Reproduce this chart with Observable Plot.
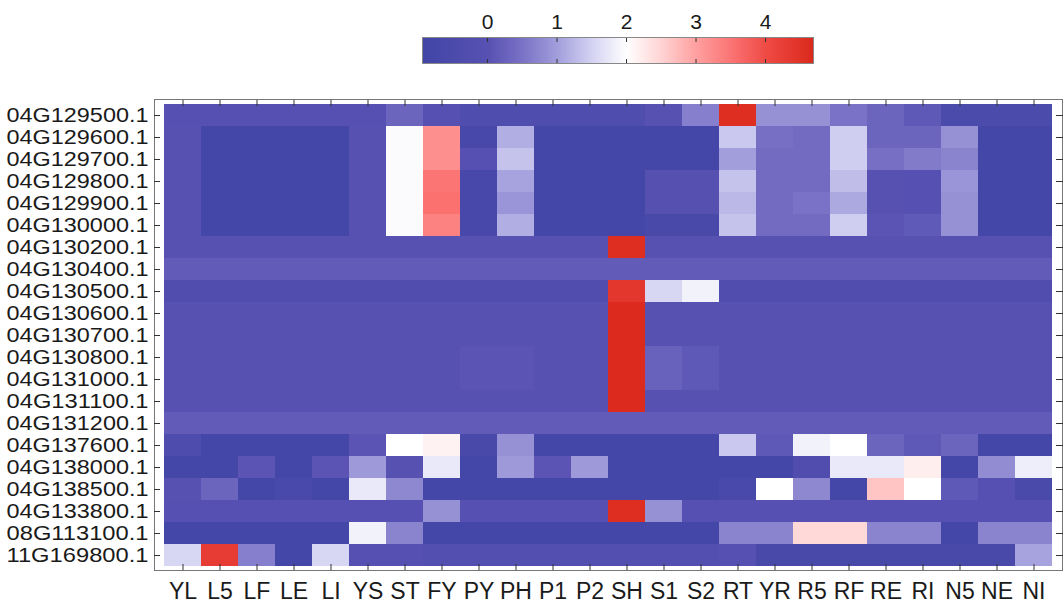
<!DOCTYPE html>
<html><head><meta charset="utf-8">
<script src="https://cdn.jsdelivr.net/npm/d3@7"></script>
<script src="https://cdn.jsdelivr.net/npm/@observablehq/plot@0.6"></script>
<style>
body{margin:0;background:#fff;font-family:"Liberation Sans",Arial,sans-serif}
#chart svg{display:block}
</style>
</head><body><div id="chart"></div>
<script>
const columns = ["YL","L5","LF","LE","LI","YS","ST","FY","PY","PH","P1","P2","SH","S1","S2","RT","YR","R5","RF","RE","RI","N5","NE","NI"];
const rows = ["04G129500.1","04G129600.1","04G129700.1","04G129800.1","04G129900.1","04G130000.1","04G130200.1","04G130400.1","04G130500.1","04G130600.1","04G130700.1","04G130800.1","04G131000.1","04G131100.1","04G131200.1","04G137600.1","04G138000.1","04G138500.1","04G133800.1","08G113100.1","11G169800.1"];
//            YL    L5    LF    LE    LI    YS    ST    FY    PY    PH    P1    P2    SH    S1    S2    RT    YR    R5    RF    RE    RI    N5    NE    NI
const values = [
  [-0.1, -0.1, -0.1, -0.1, -0.1, -0.1,  0.3, -0.1,-0.35,-0.35,-0.35,-0.35,-0.35,  0.0, 0.65,  4.6, 0.85, 0.85,  0.5,  0.3,  0.1, -0.5, -0.5, -0.5],
  [ 0.0, -0.8, -0.8, -0.8, -0.8,  0.0, 1.95,  3.2, -0.7, 1.15, -0.8, -0.8, -0.8, -0.8, -0.8,  1.4, 0.45,  0.4, 1.45,  0.3,  0.3, 0.85, -0.8, -0.8],
  [ 0.0, -0.8, -0.8, -0.8, -0.8,  0.0, 1.95,  3.2, -0.1, 1.35, -0.8, -0.8, -0.8, -0.8, -0.8,  1.0,  0.4,  0.4, 1.45, 0.45,  0.6,  0.7, -0.8, -0.8],
  [ 0.0, -0.8, -0.8, -0.8, -0.8,  0.0, 1.95,  3.5, -0.7, 1.05, -0.8, -0.8, -0.8,-0.05,-0.05, 1.35,  0.4,  0.4,  1.3,  0.0, -0.1,  0.9, -0.8, -0.8],
  [ 0.0, -0.8, -0.8, -0.8, -0.8,  0.0, 1.95, 3.55, -0.7,  0.9, -0.8, -0.8, -0.8,-0.05,-0.05, 1.25,  0.4,  0.5,  1.1,  0.0, -0.1, 0.85, -0.8, -0.8],
  [ 0.0, -0.8, -0.8, -0.8, -0.8,  0.0, 1.95, 3.35, -0.7, 1.15, -0.8, -0.8, -0.8, -0.6, -0.6, 1.35,  0.4,  0.4, 1.45, 0.05, 0.12, 0.85, -0.8, -0.8],
  [ 0.0,  0.0,  0.0,  0.0,  0.0,  0.0,  0.0,  0.0,  0.0,  0.0,  0.0,  0.0,  4.6,  0.0,  0.0,  0.0,  0.0,  0.0,  0.0,  0.0,  0.0,  0.0,  0.0,  0.0],
  [0.15, 0.15, 0.15, 0.15, 0.15, 0.15, 0.15, 0.15, 0.15, 0.15, 0.15, 0.15, 0.15, 0.15, 0.15, 0.15, 0.15, 0.15, 0.15, 0.15, 0.15, 0.15, 0.15, 0.15],
  [-0.3, -0.3, -0.3, -0.3, -0.3, -0.3, -0.3, -0.3, -0.3, -0.3, -0.3, -0.3,  4.4, 1.55, 1.85, -0.3, -0.3, -0.3, -0.3, -0.3, -0.3, -0.3, -0.3, -0.3],
  [ 0.0,  0.0,  0.0,  0.0,  0.0,  0.0,  0.0,  0.0,  0.0,  0.0,  0.0,  0.0, 4.65,  0.0,  0.0,  0.0,  0.0,  0.0,  0.0,  0.0,  0.0,  0.0,  0.0,  0.0],
  [ 0.0,  0.0,  0.0,  0.0,  0.0,  0.0,  0.0,  0.0,  0.0,  0.0,  0.0,  0.0, 4.65,  0.0,  0.0,  0.0,  0.0,  0.0,  0.0,  0.0,  0.0,  0.0,  0.0,  0.0],
  [ 0.0,  0.0,  0.0,  0.0,  0.0,  0.0,  0.0,  0.0, 0.05, 0.05,  0.0,  0.0, 4.65, 0.25,  0.1,  0.0,  0.0,  0.0,  0.0,  0.0,  0.0,  0.0,  0.0,  0.0],
  [ 0.0,  0.0,  0.0,  0.0,  0.0,  0.0,  0.0,  0.0, 0.05, 0.05,  0.0,  0.0, 4.65, 0.25,  0.1,  0.0,  0.0,  0.0,  0.0,  0.0,  0.0,  0.0,  0.0,  0.0],
  [ 0.0,  0.0,  0.0,  0.0,  0.0,  0.0,  0.0,  0.0,  0.0,  0.0,  0.0,  0.0, 4.65,  0.0,  0.0,  0.0,  0.0,  0.0,  0.0,  0.0,  0.0,  0.0,  0.0,  0.0],
  [0.15, 0.15, 0.15, 0.15, 0.15, 0.15, 0.15, 0.15, 0.15, 0.15, 0.15, 0.15, 0.15, 0.15, 0.15, 0.15, 0.15, 0.15, 0.15, 0.15, 0.15, 0.15, 0.15, 0.15],
  [-0.4, -0.8, -0.8, -0.8, -0.8, 0.05,  2.0, 2.15, -0.6, 0.85, -0.8, -0.8, -0.8, -0.8, -0.8,  1.4,  0.1, 1.85,  2.0,  0.3,  0.1,  0.3, -0.8, -0.8],
  [-0.8, -0.8, 0.05, -0.8, 0.05, 0.95,  0.0, 1.75, -0.8, 0.95, 0.05, 0.95, -0.8, -0.8, -0.8, -0.8, -0.8, -0.3, 1.75, 1.75,  2.2, -0.8,  0.8,  1.8],
  [ 0.0,  0.3, -0.8,-0.65, -0.8, 1.75, 0.75, -0.8, -0.8, -0.8, -0.8, -0.8, -0.8, -0.8, -0.8,-0.65,  2.0, 0.75, -0.8, 2.65,  2.0,  0.1, -0.1,-0.55],
  [-0.1, -0.1, -0.1, -0.1, -0.1, -0.1, -0.1, 0.85, -0.1, -0.1, -0.1, -0.1,  4.6, 0.85, -0.1, -0.1, -0.1, -0.1, -0.1, -0.1, -0.1, -0.1, -0.1, -0.1],
  [-0.8, -0.8, -0.8, -0.8, -0.8, 1.85,  0.7, -0.8, -0.8, -0.8, -0.8, -0.8, -0.8, -0.8, -0.8,  0.7,  0.7, 2.45, 2.45,  0.7,  0.7, -0.8,  0.7,  0.7],
  [1.55,  4.3, 0.65, -0.8, 1.55, -0.1, -0.1,-0.15,-0.15,-0.15,-0.15,-0.15,-0.15,-0.15,-0.15, -0.1, -0.6, -0.6, -0.6, -0.6, -0.6, -0.6, -0.6, 1.05]
];
const legendTicks = [0, 1, 2, 3, 4];
const colorStops = [-0.935, 0, 0.5, 1, 1.5, 2, 2.5, 3, 3.5, 4, 4.69];
const colorRange = ["#4145a6","#5751b2","#7a72c6","#a29edc","#d4d2f2","#ffffff","#ffd4d4","#ffa0a0","#fb7575","#ef4b45","#db291c"];

const data = rows.flatMap((r, i) => columns.map((c, j) => ({row: r, col: c, value: values[i][j]})));
const color = {type: "linear", domain: colorStops, range: colorRange, interpolate: "rgb", clamp: true};
const font = "'Liberation Sans', Arial, sans-serif";

const legend = Plot.plot({
  width: 1064, height: 75,
  marginLeft: 422, marginRight: 251, marginTop: 37, marginBottom: 12,
  style: {fontFamily: font, fontSize: "21px", color: "#1a1a1a", background: "#fff"},
  x: {domain: [colorStops[0], colorStops[colorStops.length - 1]], axis: null},
  y: {domain: [0, 1], axis: null},
  color,
  marks: [
    Plot.raster({fill: (x, y) => x, x1: colorStops[0], x2: colorStops[colorStops.length - 1], y1: 0, y2: 1, pixelSize: 1}),
    Plot.frame({stroke: "#888"}),
    Plot.axisX(legendTicks, {anchor: "top", tickSize: -4, tickPadding: 13, fontSize: 21, label: null, stroke: "#333"}),
    Plot.axisX(legendTicks, {anchor: "bottom", tickSize: -4, tickFormat: () => "", label: null, stroke: "#333"})
  ]
});

const heat = Plot.plot({
  width: 1064, height: 528,
  marginLeft: 154, marginRight: 2, marginTop: 24, marginBottom: 33,
  style: {fontFamily: font, fontSize: "23px", color: "#1a1a1a", background: "#fff"},
  x: {domain: columns, padding: 0, axis: null},
  y: {domain: rows, padding: 0, axis: null},
  color,
  marks: [
    Plot.cell(data, {x: "col", y: "row", fill: "value", inset: 0, shapeRendering: "crispEdges"}),
    Plot.frame({stroke: "#777"}),
    Plot.axisX({anchor: "bottom", tickSize: -6, tickPadding: 18, fontSize: 23, label: null, stroke: "#333"}),
    Plot.axisX({anchor: "top", tickSize: -6, tickFormat: () => "", label: null, stroke: "#333"}),
    Plot.axisY({anchor: "left", tickSize: -6, tickPadding: 12, fontSize: 19.5, label: null, stroke: "#333"}),
    Plot.axisY({anchor: "right", tickSize: -7, tickFormat: () => "", label: null, stroke: "#333"})
  ]
});

// widen the row labels horizontally to the reference's text width while keeping their line box within a row
d3.select(heat).selectAll('g[aria-label="y-axis tick label"] text').each(function() {
  if (this.textContent.trim()) {
    this.setAttribute("textLength", 142);
    this.setAttribute("lengthAdjust", "spacingAndGlyphs");
  }
});

const el = document.getElementById("chart");
el.appendChild(legend);
el.appendChild(heat);
</script>
</body></html>
